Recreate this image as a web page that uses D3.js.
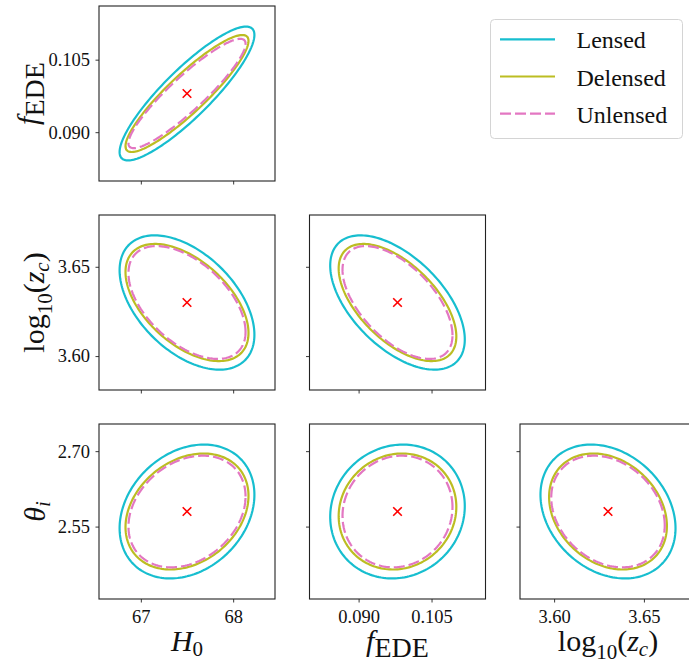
<!DOCTYPE html>
<html>
<head>
<meta charset="utf-8">
<script src="https://cdn.jsdelivr.net/npm/d3@7"></script>
<style>
  body { margin: 0; background: #fff; }
  svg { display: block; font-family: "Liberation Serif", "DejaVu Serif", serif; }
</style>
</head>
<body>
<div id="chart"></div>
<script>
// parameters, fiducial values and axis ranges
var params = ["H0", "fEDE", "logzc", "theta"];
var fiducial = [67.5, 0.098, 3.63, 2.58];
var axisMin = [66.547, 0.0799, 3.581, 2.406];
var axisMax = [68.453, 0.1161, 3.679, 2.754];
var tickValues = [[67, 68], [0.090, 0.105], [3.60, 3.65], [2.55, 2.70]];
var tickLabels = [["67", "68"], ["0.090", "0.105"], ["3.60", "3.65"], ["2.55", "2.70"]];

// forecast contours: marginal widths per parameter, correlation per pair
var experiments = ["Lensed", "Delensed", "Unlensed"];
var sigmaLensed   = [0.730, 0.01384, 0.0376, 0.1331];
var sigmaDelensed = [0.666, 0.0121,  0.0328, 0.1153];
var sigmaUnlensed = [0.634, 0.01131, 0.0316, 0.1110];
var pairs = [[0, 1], [0, 2], [1, 2], [0, 3], [1, 3], [2, 3]];
var corrLensed   = [0.875, -0.48, -0.55, 0.25, 0.08, -0.25];
var corrDelensed = [0.90,  -0.52, -0.58, 0.27, 0.08, -0.25];
var corrUnlensed = [0.91,  -0.52, -0.58, 0.27, 0.08, -0.25];

var sigmas = [sigmaLensed, sigmaDelensed, sigmaUnlensed];
var corrs = [corrLensed, corrDelensed, corrUnlensed];

var colors = ["#17becf", "#bcbd22", "#e377c2"];
var dashes = [null, null, "11,4"];
var line_w = 2.2;

var width = 689, height = 664;
var panelW = 176, panelH = 175;
var left0 = 99, top0 = 6, stepX = 210.5, stepY = 209;

var labelParts = {
  H0: [{t: "H", it: true}, {t: "0", sub: 4.5}],
  fEDE: [{t: "f", it: true}, {t: "EDE", sub: 6, size: 28}],
  logzc: [{t: "log"}, {t: "10", sub: 8}, {t: "("}, {t: "z", it: true}, {t: "c", it: true, sub: 5}, {t: ")"}],
  theta: [{t: "θ", it: true}, {t: "i", it: true, sub: 5}]
};
// baseline of rotated y labels (fEDE sits further left because of the f descender)
var yLabelX = {fEDE: 38, logzc: 44, theta: 45};

var svg = d3.select("#chart")
  .append("svg")
    .attr("width", width)
    .attr("height", height);

function writeLabel(sel, parts) {
  var prev = 0;
  parts.forEach(function(p) {
    var drop = p.sub || 0;
    sel.append("tspan")
      .attr("dy", drop - prev)
      .attr("font-size", p.size || (p.sub ? 21 : 30))
      .attr("font-style", p.it ? "italic" : "normal")
      .text(p.t);
    prev = drop;
  });
}

function pairIndex(a, b) {
  for (var k = 0; k < pairs.length; k++) {
    if (pairs[k][0] == a && pairs[k][1] == b) return k;
  }
  return -1;
}

var angles = d3.range(0, 360, 2).map(function(d) { return d * Math.PI / 180; });

function drawPanel(row, col) {
  var px = col, py = row + 1;
  var g = svg.append("g")
    .attr("transform", "translate(" + (left0 + col * stepX) + "," + (top0 + row * stepY) + ")");

  var xScale = d3.scaleLinear().domain([axisMin[px], axisMax[px]]).range([0, panelW]);
  var yScale = d3.scaleLinear().domain([axisMin[py], axisMax[py]]).range([panelH, 0]);

  var k = pairIndex(px, py);
  experiments.forEach(function(name, e) {
    var sx = sigmas[e][px], sy = sigmas[e][py], rho = corrs[e][k];
    var pts = angles.map(function(t) {
      return [fiducial[px] + sx * Math.cos(t),
              fiducial[py] + sy * (rho * Math.cos(t) + Math.sqrt(1 - rho * rho) * Math.sin(t))];
    });
    g.append("path")
      .datum(pts)
      .attr("fill", "none")
      .attr("stroke", colors[e])
      .attr("stroke-width", line_w)
      .attr("stroke-dasharray", dashes[e])
      .attr("d", d3.line()
        .curve(d3.curveLinearClosed)
        .x(function(d) { return xScale(d[0]); })
        .y(function(d) { return yScale(d[1]); }));
  });

  // fiducial marker
  g.append("path")
    .attr("transform", "translate(" + xScale(fiducial[px]) + "," + yScale(fiducial[py]) + ")")
    .attr("d", "M-4.3,-4.3L4.3,4.3M-4.3,4.3L4.3,-4.3")
    .attr("stroke", "red")
    .attr("stroke-width", 1.6);

  var xAxis = d3.axisBottom(xScale)
    .tickValues(tickValues[px])
    .tickSize(3.5)
    .tickPadding(7)
    .tickFormat(function(d, i) { return row == 2 ? tickLabels[px][i] : ""; });
  var yAxis = d3.axisLeft(yScale)
    .tickValues(tickValues[py])
    .tickSize(3.5)
    .tickPadding(5.5)
    .tickFormat(function(d, i) { return col == 0 ? tickLabels[py][i] : ""; });

  var xg = g.append("g").attr("transform", "translate(0," + panelH + ")").call(xAxis);
  var yg = g.append("g").call(yAxis);
  [xg, yg].forEach(function(a) {
    a.select(".domain").remove();
    a.selectAll("line").attr("stroke", "#222").attr("stroke-width", 0.9);
    a.selectAll("text")
      .attr("fill", "#111")
      .attr("font-size", 18.5)
      .attr("font-family", "Liberation Serif, serif");
  });

  g.append("rect")
    .attr("width", panelW)
    .attr("height", panelH)
    .attr("fill", "none")
    .attr("stroke", "#222")
    .attr("stroke-width", 1.1);

  if (row == 2) {
    var xl = svg.append("text")
      .attr("x", left0 + col * stepX + panelW / 2)
      .attr("y", 651)
      .attr("text-anchor", "middle")
      .attr("fill", "#111");
    writeLabel(xl, labelParts[params[px]]);
  }
  if (col == 0) {
    var cy = top0 + row * stepY + panelH / 2;
    var bx = yLabelX[params[py]];
    var yl = svg.append("text")
      .attr("transform", "translate(" + bx + "," + cy + ")rotate(-90)")
      .attr("text-anchor", "middle")
      .attr("fill", "#111");
    writeLabel(yl, labelParts[params[py]]);
  }
}

for (var r = 0; r < 3; r++) {
  for (var c = 0; c <= r; c++) drawPanel(r, c);
}

// legend
var legend = svg.append("g");
legend.append("rect")
  .attr("x", 490.5)
  .attr("y", 19.5)
  .attr("width", 192)
  .attr("height", 119)
  .attr("rx", 4)
  .attr("fill", "white")
  .attr("stroke", "#d4d4d4")
  .attr("stroke-width", 1);

var items = legend.selectAll("g.item")
  .data(experiments)
  .enter()
  .append("g")
  .attr("class", "item")
  .attr("transform", function(d, i) { return "translate(0," + (39.3 + i * 37.2) + ")"; });

items.append("line")
  .attr("x1", 500)
  .attr("x2", 555)
  .attr("stroke", function(d, i) { return colors[i]; })
  .attr("stroke-width", line_w)
  .attr("stroke-dasharray", function(d, i) { return dashes[i]; });

items.append("text")
  .attr("x", 576.5)
  .attr("y", 9)
  .attr("font-size", 24)
  .attr("fill", "#111")
  .text(function(d) { return d; });
</script>
</body>
</html>
